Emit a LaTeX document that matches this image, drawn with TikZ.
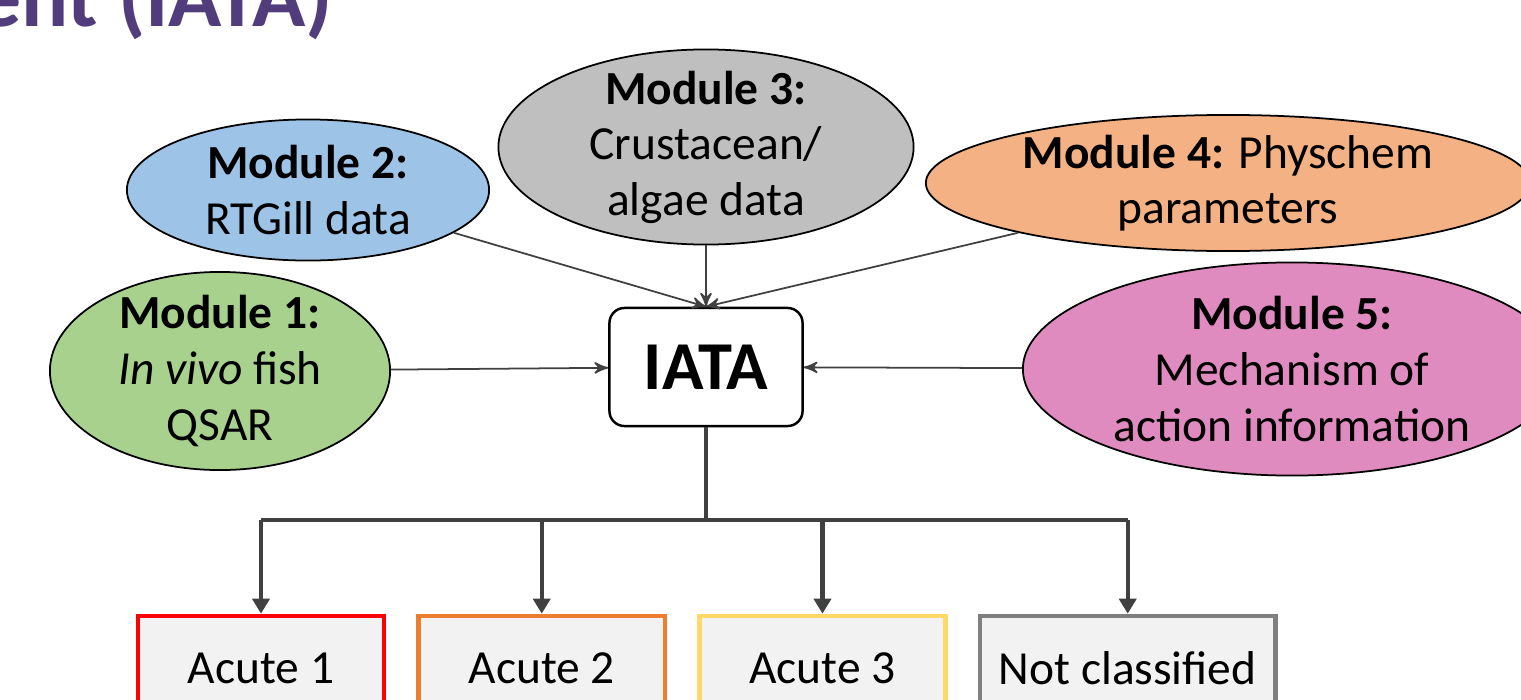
\documentclass[tikz,border=0pt]{standalone}
\usepackage{fontspec}
\setmainfont{Carlito}
\usepackage{xcolor}
\definecolor{colorTitle}{HTML}{523D7C}
\definecolor{colorModOne}{HTML}{A9D18E}
\definecolor{colorModTwo}{HTML}{9DC3E6}
\definecolor{colorModThree}{HTML}{BFBFBF}
\definecolor{colorModFour}{HTML}{F4B183}
\definecolor{colorModFive}{HTML}{E08BBF}
\definecolor{colorLink}{HTML}{404040}
\definecolor{colorBoxFill}{HTML}{F2F2F2}
\definecolor{colorAcuteOne}{HTML}{FF0000}
\definecolor{colorAcuteTwo}{HTML}{ED7D31}
\definecolor{colorAcuteThree}{HTML}{FFD966}
\definecolor{colorNotClass}{HTML}{7F7F7F}
\usetikzlibrary{arrows, arrows.meta, shapes.geometric, positioning}

\begin{document}
\begin{tikzpicture}[x=0.01cm, y=-0.01cm, >=stealth',
  module/.style={ellipse, draw=black, line width=0.5pt, inner sep=-5mm, align=center, font=\fontsize{13.5}{15.8}\selectfont},
  link/.style={->, colorLink, line width=0.5pt},
  branch/.style={colorLink, line width=1.2pt},
  category/.style={rectangle, fill=colorBoxFill, line width=1.3pt, minimum height=1.04cm, font=\fontsize{13.5}{15.8}\selectfont}]
\useasboundingbox (0,0) rectangle (1521,700);
\node[anchor=base east, text=colorTitle, font=\fontsize{25}{30}\selectfont\bfseries] (title) at (345,27) {ent (IATA)};
\node[draw, rounded corners=0.15cm, line width=0.7pt, minimum width=1.93cm, minimum height=1.18cm, font=\fontsize{19.5}{23}\selectfont\bfseries] (iata) at (706,367) {IATA};
\node[module, fill=colorModOne, minimum width=3.40cm, minimum height=1.98cm] (mod1) at (220,371) {\textbf{Module 1:}\\\textit{In vivo} fish\\QSAR};
\node[module, fill=colorModTwo, minimum width=3.62cm, minimum height=1.41cm] (mod2) at (308,190) {\textbf{Module 2:}\\RTGill data};
\node[module, fill=colorModThree, minimum width=4.15cm, minimum height=1.95cm] (mod3) at (706,147) {\textbf{Module 3:}\\Crustacean/\\algae data};
\node[module, fill=colorModFour, minimum width=6.04cm, minimum height=1.36cm] (mod4) at (1228,183) {\textbf{Module 4:} Physchem\\parameters};
\node[module, fill=colorModFive, minimum width=5.38cm, minimum height=2.13cm] (mod5) at (1292,369) {\textbf{Module 5:}\\Mechanism of\\action information};
\draw[link] (mod1) -- (iata);
\draw[link] (mod5) -- (iata);
\draw[link] (mod2) -- (iata.north);
\draw[link] (mod3) -- (iata.north);
\draw[link] (mod4) -- (iata.north);
% classes
\node[category, draw=colorAcuteOne, minimum width=2.46cm] (acute1) at (261,668) {Acute 1};
\node[category, draw=colorAcuteTwo, minimum width=2.46cm, right=0.30cm of acute1] (acute2) {Acute 2};
\node[category, draw=colorAcuteThree, minimum width=2.46cm, right=0.30cm of acute2] (acute3) {Acute 3};
\node[category, draw=colorNotClass, minimum width=2.95cm, right=0.30cm of acute3] (notclass) {Not classified};
\coordinate (split) at (706,520);
\draw[branch] (iata) -- (split);
\draw[branch] (split -| acute1) -- (split -| notclass);
\foreach \c in {acute1,acute2,acute3,notclass}
  \draw[branch, -{Triangle[length=0.15cm, width=0.17cm]}] (split -| \c) -- (\c);
\end{tikzpicture}
\end{document}
